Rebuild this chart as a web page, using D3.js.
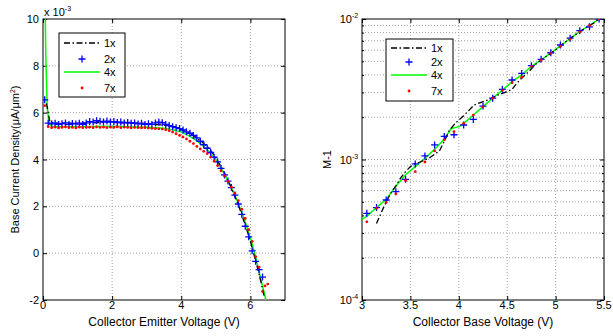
<!DOCTYPE html>
<html>
<head>
<meta charset="utf-8">
<script src="https://cdn.jsdelivr.net/npm/d3@7"></script>
<style>
  body { margin: 0; background: #fff; }
  svg { display: block; font-family: "Liberation Sans", Arial, sans-serif; }
  .grid line { stroke: #a0a0a0; stroke-width: 1; stroke-dasharray: 1,2; }
</style>
</head>
<body>
<svg id="chart" width="613" height="336"></svg>
<script>
/* global d3 */

//* LEFT PANEL DATA: base current density vs collector emitter voltage (x 1e-3)
var ceTicksX = [0, 2, 4, 6];
var ceTicksY = [-2, 0, 2, 4, 6, 8, 10];

var ce1xV = [0.1, 0.2, 0.4, 0.6, 0.8, 1.0, 1.2, 1.4, 1.6, 1.8, 2.0, 2.2, 2.4, 2.6, 2.8, 3.0, 3.2, 3.4, 3.6, 3.8,
             4.0, 4.2, 4.4, 4.6, 4.8, 5.0, 5.1, 5.2, 5.3, 5.4, 5.5, 5.6, 5.7, 5.8, 5.9, 6.0, 6.1, 6.2, 6.3, 6.4];
var ce1xJ = [6.4, 5.6, 5.55, 5.53, 5.55, 5.52, 5.54, 5.56, 5.58, 5.6, 5.63, 5.58, 5.56, 5.55, 5.53, 5.5, 5.5, 5.48, 5.45, 5.38,
             5.27, 5.15, 4.98, 4.75, 4.48, 4.08, 3.82, 3.58, 3.25, 2.95, 2.6, 2.25, 1.85, 1.42, 0.98, 0.5, -0.05, -0.6, -1.2, -1.85];

var ce2xV = [0.05, 0.15, 0.25, 0.35, 0.45, 0.55, 0.65, 0.75, 0.85, 0.95, 1.05, 1.15, 1.25, 1.35, 1.45, 1.55,
             1.65, 1.75, 1.85, 1.95, 2.05, 2.15, 2.25, 2.35, 2.45, 2.55, 2.65, 2.75, 2.85, 2.95, 3.05, 3.15,
             3.25, 3.35, 3.45, 3.55, 3.65, 3.75, 3.85, 3.95, 4.05, 4.15, 4.25, 4.35, 4.45, 4.55, 4.65, 4.75,
             4.85, 4.95, 5.05, 5.15, 5.25, 5.35, 5.45, 5.55, 5.65, 5.75, 5.85, 5.95, 6.05, 6.15, 6.25, 6.35];
var ce2xJ = [6.55, 5.55, 5.52, 5.55, 5.5, 5.53, 5.56, 5.5, 5.54, 5.52, 5.55, 5.5, 5.56, 5.62, 5.6, 5.66,
             5.63, 5.6, 5.64, 5.6, 5.62, 5.58, 5.6, 5.56, 5.58, 5.55, 5.56, 5.52, 5.55, 5.5, 5.53, 5.5,
             5.56, 5.6, 5.57, 5.5, 5.45, 5.4, 5.36, 5.32, 5.26, 5.18, 5.12, 5.03, 4.92, 4.78, 4.63, 4.48,
             4.3, 4.1, 3.9, 3.62, 3.34, 3.08, 2.8, 2.48, 2.1, 1.66, 1.15, 0.7, 0.1, -0.35, -0.7, -1.02];

var ce4xV = [0.05, 0.08, 0.12, 0.17, 0.25, 0.5, 1.0, 1.5, 2.0, 2.5, 3.0, 3.5, 3.8, 4.0, 4.2, 4.4, 4.6, 4.8, 5.0,
             5.2, 5.4, 5.6, 5.8, 6.0, 6.1, 6.2, 6.3, 6.4, 6.46];
var ce4xJ = [12, 8.5, 6.3, 5.55, 5.42, 5.4, 5.4, 5.41, 5.42, 5.4, 5.38, 5.33, 5.25, 5.17, 5.03, 4.85, 4.62, 4.33, 4.0,
             3.5, 2.95, 2.3, 1.55, 0.65, 0.12, -0.48, -1.1, -1.7, -2.1];

var ce7xV = [0.05, 0.15, 0.25, 0.35, 0.45, 0.55, 0.65, 0.75, 0.85, 0.95, 1.05, 1.15, 1.25, 1.35, 1.45, 1.55,
             1.65, 1.75, 1.85, 1.95, 2.05, 2.15, 2.25, 2.35, 2.45, 2.55, 2.65, 2.75, 2.85, 2.95, 3.05, 3.15,
             3.25, 3.35, 3.45, 3.55, 3.65, 3.75, 3.85, 3.95, 4.05, 4.15, 4.25, 4.35, 4.45, 4.55, 4.65, 4.75,
             4.85, 4.95, 5.05, 5.15, 5.25, 5.35, 5.45, 5.55, 5.65, 5.75, 5.85, 5.95, 6.05, 6.15, 6.25, 6.35,
             6.42, 6.5];
var ce7xJ = [6.3, 5.4, 5.36, 5.38, 5.35, 5.37, 5.39, 5.36, 5.37, 5.35, 5.38, 5.36, 5.37, 5.38, 5.36, 5.39,
             5.37, 5.38, 5.36, 5.38, 5.37, 5.39, 5.36, 5.38, 5.37, 5.35, 5.37, 5.36, 5.35, 5.36, 5.34, 5.33,
             5.32, 5.31, 5.3, 5.27, 5.23, 5.17, 5.1, 5.03, 4.96, 4.88, 4.78, 4.68, 4.56, 4.45, 4.35, 4.25,
             4.1, 3.93, 3.74, 3.51, 3.3, 3.07, 2.82, 2.56, 2.24, 1.88, 1.48, 1.0, 0.5, -0.15, -0.6, -1.64,
             -1.4, -1.32];

//* RIGHT PANEL DATA: M-1 vs collector base voltage
var cbTicksX = [3, 3.5, 4, 4.5, 5, 5.5];
var cbDecades = [1e-4, 1e-3, 1e-2];

var cbMarkV = [3.05, 3.15, 3.25, 3.35, 3.45, 3.55, 3.65, 3.75, 3.85, 3.95, 4.05, 4.15, 4.25,
               4.35, 4.45, 4.55, 4.65, 4.75, 4.85, 4.95, 5.05, 5.15, 5.25, 5.35, 5.45];
var cb2xM = [4.14e-4, 4.55e-4, 5.15e-4, 5.9e-4, 7.23e-4, 9.3e-4, 1.06e-3, 1.27e-3, 1.46e-3, 1.5e-3, 1.76e-3, 1.93e-3, 2.4e-3,
             2.73e-3, 3.16e-3, 3.68e-3, 4.1e-3, 4.65e-3, 5.16e-3, 5.75e-3, 6.53e-3, 7.3e-3, 8.26e-3, 8.8e-3, 1.0e-2];
var cb7xM = [3.6e-4, 4.5e-4, 4.95e-4, 5.7e-4, 7.1e-4, 8.2e-4, 9.6e-4, 1.15e-3, 1.38e-3, 1.58e-3, 1.81e-3, 2.07e-3, 2.37e-3,
             2.73e-3, 3.1e-3, 3.52e-3, 3.85e-3, 4.6e-3, 5.1e-3, 5.7e-3, 6.4e-3, 7.2e-3, 8.1e-3, 9.0e-3, 1.0e-2];

var cb4xV = [3.0, 3.05, 3.15, 3.25, 3.35, 3.45, 3.55, 3.65, 3.75, 3.85, 3.92, 4.01, 4.1, 4.25, 4.35, 4.45, 4.55,
             4.65, 4.75, 4.85, 4.95, 5.05, 5.15, 5.25, 5.35, 5.45];
var cb4xM = [3.75e-4, 3.95e-4, 4.55e-4, 5.2e-4, 6.45e-4, 7.8e-4, 8.9e-4, 1.02e-3, 1.18e-3, 1.4e-3, 1.66e-3, 1.72e-3, 1.93e-3,
             2.38e-3, 2.73e-3, 3.12e-3, 3.58e-3, 4.0e-3, 4.6e-3, 5.12e-3, 5.72e-3, 6.45e-3, 7.25e-3, 8.15e-3, 9.0e-3, 1.0e-2];

var cb1xV = [3.15, 3.2, 3.25, 3.3, 3.35, 3.4, 3.45, 3.5, 3.55, 3.6, 3.7, 3.8, 3.85, 3.9, 3.96, 4.05, 4.1, 4.16, 4.23,
             4.3, 4.4, 4.5, 4.55, 4.6, 4.65, 4.73, 4.8, 4.9, 5.0, 5.1, 5.2, 5.3, 5.4, 5.45];
var cb1xM = [3.5e-4, 4.2e-4, 5.0e-4, 5.8e-4, 6.5e-4, 7.4e-4, 8.2e-4, 8.9e-4, 9.3e-4, 9.6e-4, 1.03e-3, 1.15e-3, 1.35e-3,
             1.6e-3, 1.8e-3, 2.05e-3, 2.22e-3, 2.45e-3, 2.55e-3, 2.65e-3, 2.87e-3, 3.05e-3, 3.15e-3, 3.5e-3, 3.8e-3,
             4.27e-3, 4.8e-3, 5.4e-3, 6.05e-3, 6.85e-3, 7.7e-3, 8.55e-3, 9.4e-3, 1.0e-2];

var legendNames = ['1x', '2x', '4x', '7x'];

var FONT = 11;
var DASHDOT = '6,2.5,1.5,2.5';

var svg = d3.select('#chart');

function zip(xs, ys) { return xs.map(function(x, i) { return [x, ys[i]]; }); }

//* draws one MATLAB-style axes box with grid, inner ticks, curves and legend
function drawPanel(p) {

	var x = p.x, y = p.y;
	var x0 = x.range()[0], x1 = x.range()[1], y0 = y.range()[0], y1 = y.range()[1];

	var g = svg.append('g');

	g.append('clipPath').attr('id', p.id + '-clip')
		.append('rect').attr('x', x0).attr('y', y1).attr('width', x1 - x0).attr('height', y0 - y1);

	//* GRID
	var grid = g.append('g').attr('class', 'grid');
	p.gridX.forEach(function(v) {
		grid.append('line').attr('x1', x(v)).attr('x2', x(v)).attr('y1', y0).attr('y2', y1);
	});
	p.gridY.forEach(function(v) {
		grid.append('line').attr('x1', x0).attr('x2', x1).attr('y1', y(v)).attr('y2', y(v));
	});

	//* AXES (inner ticks on all four sides)
	var tl = 4;
	g.append('g').attr('transform', 'translate(0,' + y0 + ')')
		.call(d3.axisBottom(x).tickValues(p.ticksX).tickSizeInner(-tl).tickSizeOuter(0).tickFormat(''));
	g.append('g').attr('transform', 'translate(0,' + y1 + ')')
		.call(d3.axisTop(x).tickValues(p.ticksX).tickSizeInner(-tl).tickSizeOuter(0).tickFormat(''));
	g.append('g').attr('transform', 'translate(' + x0 + ',0)')
		.call(d3.axisLeft(y).tickValues(p.ticksY).tickSizeInner(-tl).tickSizeOuter(0).tickFormat(''));
	g.append('g').attr('transform', 'translate(' + x1 + ',0)')
		.call(d3.axisRight(y).tickValues(p.ticksY).tickSizeInner(-tl).tickSizeOuter(0).tickFormat(''));
	if (p.minorY) {
		g.append('g').attr('transform', 'translate(' + x0 + ',0)')
			.call(d3.axisLeft(y).tickValues(p.minorY).tickSizeInner(-2).tickSizeOuter(0).tickFormat(''));
		g.append('g').attr('transform', 'translate(' + x1 + ',0)')
			.call(d3.axisRight(y).tickValues(p.minorY).tickSizeInner(-2).tickSizeOuter(0).tickFormat(''));
	}
	g.selectAll('.domain').remove();
	g.selectAll('.tick line').attr('stroke', '#000');

	g.append('rect')
		.attr('x', x0).attr('y', y1).attr('width', x1 - x0).attr('height', y0 - y1)
		.attr('fill', 'none').attr('stroke', '#000').attr('stroke-width', 1);

	//* TICK LABELS
	g.selectAll('.xlab').data(p.ticksX).enter().append('text')
		.attr('x', function(d) { return x(d); })
		.attr('y', y0 + 9)
		.attr('font-size', FONT)
		.style('text-anchor', 'middle')
		.text(function(d) { return d; });

	p.ticksY.forEach(function(d) {
		var t = g.append('text')
			.attr('x', x0 - 4 - (p.logY ? 6 : 0))
			.attr('y', y(d) + 4)
			.attr('font-size', FONT)
			.style('text-anchor', 'end');
		if (p.logY) {
			t.text('10');
			g.append('text')
				.attr('x', x0 - 10).attr('y', y(d) - 1)
				.attr('font-size', 7)
				.text(Math.round(Math.log10(d)));
		} else {
			t.text(d);
		}
	});

	//* AXIS LABELS
	g.append('text')
		.attr('x', (x0 + x1) / 2).attr('y', 326)
		.attr('font-size', 12)
		.style('text-anchor', 'middle')
		.text(p.xLabel);

	var yl = g.append('text')
		.attr('transform', 'translate(' + p.yLabelX + ',' + ((y0 + y1) / 2) + ') rotate(-90)')
		.attr('font-size', FONT)
		.style('text-anchor', 'middle');
	p.yLabel(yl);

	//* CURVES
	var plot = g.append('g').attr('clip-path', 'url(#' + p.id + '-clip)');
	var line = d3.line().x(function(d) { return x(d[0]); }).y(function(d) { return y(d[1]); });

	plot.append('path').datum(p.s4)
		.attr('d', line).attr('fill', 'none').attr('stroke', '#00ff00').attr('stroke-width', 1.5);

	plot.append('path').datum(p.s1)
		.attr('d', line).attr('fill', 'none').attr('stroke', '#000')
		.attr('stroke-width', 1.3).attr('stroke-dasharray', DASHDOT);

	plot.selectAll('.p2').data(p.s2).enter().append('path')
		.attr('d', 'M-3.5,0H3.5M0,-3.5V3.5')
		.attr('transform', function(d) { return 'translate(' + x(d[0]) + ',' + y(d[1]) + ')'; })
		.attr('stroke', '#0000ff').attr('stroke-width', 1.3).attr('fill', 'none');

	plot.selectAll('.p7').data(p.s7).enter().append('circle')
		.attr('cx', function(d) { return x(d[0]); })
		.attr('cy', function(d) { return y(d[1]); })
		.attr('r', 1.4)
		.attr('fill', '#ff0000');

	//* LEGEND
	var L = p.legend;
	var lg = g.append('g').attr('transform', 'translate(' + L.x + ',' + L.y + ')');
	lg.append('rect').attr('width', L.w).attr('height', L.h)
		.attr('fill', '#fff').attr('stroke', '#000').attr('stroke-width', 1);

	legendNames.forEach(function(name, i) {
		var ly = L.rows[i];
		if (i === 0) {
			lg.append('line').attr('x1', 5).attr('x2', 41).attr('y1', ly).attr('y2', ly)
				.attr('stroke', '#000').attr('stroke-width', 1.3).attr('stroke-dasharray', DASHDOT);
		} else if (i === 1) {
			lg.append('path').attr('d', 'M' + 19.5 + ',' + ly + 'h7M23,' + (ly - 3.5) + 'v7')
				.attr('stroke', '#0000ff').attr('stroke-width', 1.3);
		} else if (i === 2) {
			lg.append('line').attr('x1', 5).attr('x2', 41).attr('y1', ly).attr('y2', ly)
				.attr('stroke', '#00ff00').attr('stroke-width', 1.5);
		} else {
			lg.append('circle').attr('cx', 23).attr('cy', ly).attr('r', 1.4).attr('fill', '#ff0000');
		}
		lg.append('text')
			.attr('x', 45).attr('y', ly + 4)
			.attr('font-size', FONT)
			.text(name);
	});
}

//* LEFT PANEL
var xCE = d3.scaleLinear().domain([0, 7]).range([43, 285]);
var yCE = d3.scaleLinear().domain([-2, 10]).range([300, 19]);

drawPanel({
	id: 'ce', x: xCE, y: yCE,
	ticksX: ceTicksX, ticksY: ceTicksY,
	gridX: [2, 4, 6], gridY: [0, 2, 4, 6, 8],
	s1: zip(ce1xV, ce1xJ), s2: zip(ce2xV, ce2xJ), s4: zip(ce4xV, ce4xJ), s7: zip(ce7xV, ce7xJ),
	xLabel: 'Collector Emitter Voltage (V)',
	yLabelX: 19,
	yLabel: function(t) {
		t.append('tspan').text('Base Current Density(\u03BCA/\u03BCm');
		t.append('tspan').attr('dy', -4).attr('font-size', 7).text('2');
		t.append('tspan').attr('dy', 4).text(')');
	},
	legend: { x: 59, y: 33, w: 66, h: 64, rows: [10, 26, 39, 55] }
});

//* exponent note above the left axes
var ex = svg.append('text').attr('x', 44).attr('y', 16).attr('font-size', FONT);
ex.append('tspan').text('x 10');
ex.append('tspan').attr('dy', -5).attr('font-size', 7).text('-3');

//* RIGHT PANEL
var xCB = d3.scaleLinear().domain([3, 5.5]).range([362, 604]);
var yCB = d3.scaleLog().domain([1e-4, 1e-2]).range([300, 19]);

var minor = [];
[1e-4, 1e-3].forEach(function(dec) {
	[2, 3, 4, 5, 6, 7, 8, 9].forEach(function(m) { minor.push(dec * m); });
});

drawPanel({
	id: 'cb', x: xCB, y: yCB, logY: true,
	ticksX: cbTicksX, ticksY: cbDecades, minorY: minor,
	gridX: [3.5, 4, 4.5, 5], gridY: minor.concat([1e-3]),
	s1: zip(cb1xV, cb1xM), s2: zip(cbMarkV, cb2xM), s4: zip(cb4xV, cb4xM), s7: zip(cbMarkV, cb7xM),
	xLabel: 'Collector Base Voltage (V)',
	yLabelX: 331,
	yLabel: function(t) { t.text('M-1'); },
	legend: { x: 386, y: 39, w: 67, h: 62, rows: [9, 23, 36, 52] }
});
</script>
</body>
</html>
